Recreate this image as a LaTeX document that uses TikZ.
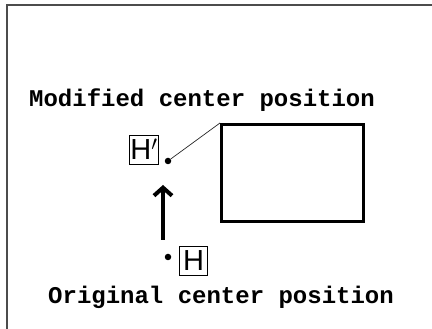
\documentclass[tikz,border=0pt]{standalone}
\usepackage{fontspec}
\newfontfamily\monofont{Liberation Mono}
\newfontfamily\sansfont{Liberation Sans}
\usetikzlibrary{arrows.meta}
\begin{document}
\begin{tikzpicture}[x=1pt,y=1pt,
  lbl/.style={font=\monofont\bfseries\fontsize{24}{24}\selectfont, inner sep=0pt, anchor=base west},
  hbox/.style={draw, line width=0.8pt, font=\sansfont\fontsize{29}{29}\selectfont, inner sep=1pt, minimum width=28pt, minimum height=29pt},
  pt/.style={circle, fill, inner sep=0pt, minimum size=6.5pt}]
\useasboundingbox (0,0) rectangle (432,329);
\draw[line width=2pt, color=black!70] (7,-10) -- (7,324) -- (445,324);
\node[lbl] (mod) at (29,222) {Modified center position};
\node[lbl] (orig) at (48,25) {Original center position};
\node[draw, line width=3pt, minimum width=142pt, minimum height=97pt, inner sep=0pt] (rect) at (292.5,156) {};
\node[hbox] (hp) at (144,179.5) {H$'$};
\node[hbox] (h) at (193.5,68) {H};
\node[pt] (dp) at (168,168) {};
\node[pt] (d) at (168,72) {};
\coordinate (as) at (163,89);
\coordinate (ae) at (163,144);
\draw[line width=0.7pt, color=black!85] (dp) -- (rect.north west);
\draw[line width=4pt, -{Straight Barb[length=8pt,width=18pt]}] (as) -- (ae);
\end{tikzpicture}
\end{document}
